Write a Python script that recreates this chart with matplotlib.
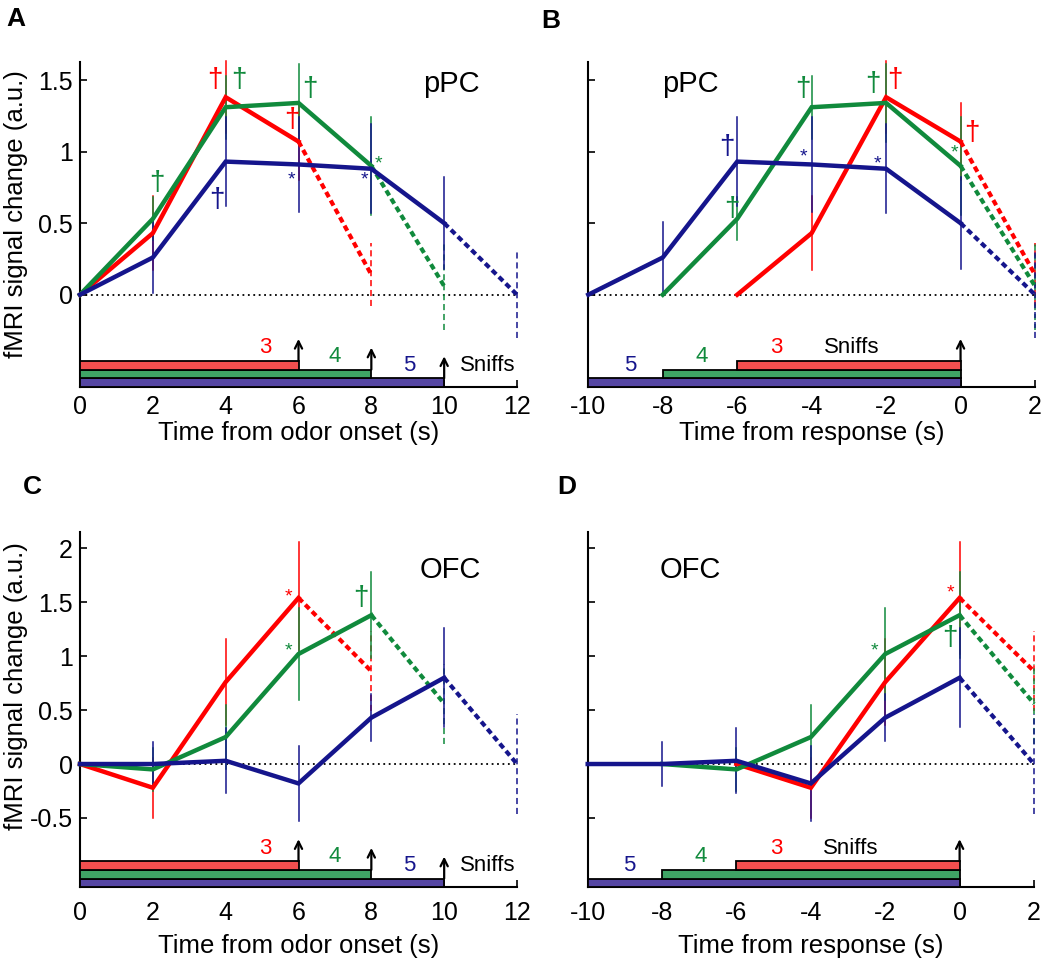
import numpy as np
import matplotlib
matplotlib.use('Agg')
import matplotlib.pyplot as plt
from matplotlib.transforms import blended_transform_factory
from matplotlib.patches import Rectangle

plt.rcParams['font.family'] = ['Liberation Sans', 'DejaVu Sans']
plt.rcParams['axes.unicode_minus'] = False

# colours for 3, 4 and 5 sniffs
line_cols = ['#ff0000', '#108a3c', '#15158c']
bar_cols = ['#f24f4f', '#3fa465', '#5546a3']
sniff_counts = ['3', '4', '5']

# time points (last point of each series is after the response -> dashed)
onset_t = [[0, 2, 4, 6, 8], [0, 2, 4, 6, 8, 10], [0, 2, 4, 6, 8, 10, 12]]
resp_t = [[-6, -4, -2, 0, 2], [-8, -6, -4, -2, 0, 2], [-10, -8, -6, -4, -2, 0, 2]]

# pPC
ppc_mean = [[0, 0.43, 1.38, 1.07, 0.14],
            [0, 0.53, 1.31, 1.34, 0.90, 0.06],
            [0, 0.26, 0.93, 0.91, 0.88, 0.50, 0.0]]
ppc_err = [[0, 0.26, 0.25, 0.27, 0.22],
           [0, 0.15, 0.22, 0.27, 0.34, 0.31],
           [0, 0.25, 0.31, 0.33, 0.31, 0.32, 0.30]]

# OFC
ofc_mean = [[0, -0.22, 0.76, 1.54, 0.86],
            [0, -0.05, 0.25, 1.02, 1.38, 0.56],
            [0, 0.0, 0.03, -0.18, 0.43, 0.80, 0.0]]
ofc_err = [[0, 0.28, 0.40, 0.52, 0.37],
           [0, 0.20, 0.30, 0.43, 0.40, 0.37],
           [0, 0.20, 0.30, 0.35, 0.22, 0.46, 0.46]]

# significance marks: x, y, symbol, series index
marks_a = [(3.7, 1.5, '†', 0), (4.35, 1.5, '†', 1), (6.3, 1.44, '†', 1),
           (5.82, 1.22, '†', 0), (2.1, 0.78, '†', 1), (3.75, 0.66, '†', 2),
           (5.8, 0.80, '*', 2), (7.8, 0.80, '*', 2), (8.2, 0.91, '*', 1)]
marks_b = [(-6.28, 1.035, '†', 2), (-4.23, 1.44, '†', 1), (-2.35, 1.47, '†', 1),
           (-1.76, 1.50, '†', 0), (0.31, 1.13, '†', 0), (-6.15, 0.6, '†', 1),
           (-4.23, 0.96, '*', 2), (-2.24, 0.91, '*', 2), (-0.17, 0.99, '*', 1)]
marks_c = [(5.72, 1.55, '*', 0), (7.72, 1.54, '†', 1), (5.72, 1.05, '*', 1)]
marks_d = [(-2.3, 1.05, '*', 1), (-0.24, 1.59, '*', 0), (-0.27, 1.17, '†', 1)]

onset_ticks = [0, 2, 4, 6, 8, 10, 12]
resp_ticks = [-10, -8, -6, -4, -2, 0, 2]
ppc_yticks = [0, 0.5, 1, 1.5]
ofc_yticks = [-0.5, 0, 0.5, 1, 1.5, 2]

fig = plt.figure(figsize=(10.5, 9.61), dpi=100)
W, H = 1050, 961
axA = fig.add_axes([80/W, 1-387/H, 437/W, 325/H])
axB = fig.add_axes([588.3/W, 1-387/H, 446.7/W, 325/H])
axC = fig.add_axes([80/W, 1-887.3/H, 437/W, 355.6/H])
axD = fig.add_axes([587.7/W, 1-887.3/H, 446.3/W, 355.6/H])


def draw_panel(ax, times, means, errs, marks, xlim, ylim, xticks, yticks,
               region, region_xy, onset, ah_px):
    ax.set_xlim(xlim)
    ax.set_ylim(ylim)
    ax.plot(xlim, [0, 0], color='k', lw=1.3, ls=(0, (1, 2)), zorder=1)
    # error bars
    for i in range(3):
        t, m, e = times[i], means[i], errs[i]
        for j in range(1, len(t)):
            ls = (0, (4, 2.5)) if j == len(t) - 1 else '-'
            ax.plot([t[j], t[j]], [m[j] - e[j], m[j] + e[j]], color=line_cols[i],
                    lw=1.1, ls=ls, zorder=2, clip_on=False)
    # mean lines
    for i in range(3):
        t, m = times[i], means[i]
        ax.plot(t[:-1], m[:-1], color=line_cols[i], lw=3.2, zorder=3,
                solid_joinstyle='miter', clip_on=False)
        ax.plot(t[-2:], m[-2:], color=line_cols[i], lw=3.0, ls=(0, (1.4, 0.9)),
                zorder=3, clip_on=False)
    for x, y, s, c in marks:
        fs = 20 if s == '†' else 14
        ax.text(x, y, s, color=line_cols[c], fontsize=fs, ha='center', va='center',
                zorder=5)
    ax.text(region_xy[0], region_xy[1], region, fontsize=21, ha='center', va='center')

    # sniff bars
    tr = blended_transform_factory(ax.transData, ax.transAxes)
    bh = 8.7 / ah_px
    tops = []
    for k in range(3):
        i = 2 - k  # blue at bottom
        if onset:
            x0, x1 = 0, 6 + 2 * i
        else:
            x0, x1 = -6 - 2 * i, 0
        ax.add_patch(Rectangle((x0, k * bh), x1 - x0, bh, transform=tr,
                               facecolor=bar_cols[i], edgecolor='k', lw=1.3,
                               zorder=4, clip_on=False))
        tops.append((i, x1, (k + 1) * bh))
    arrow_len = 22 / ah_px
    lab_off = 13 / ah_px
    aprops = dict(arrowstyle='->', lw=1.6, color='k', shrinkA=0, shrinkB=0,
                  mutation_scale=13)
    if onset:
        lab_x = [5.1, 7.0, 9.05]
        for i, x1, top in tops:
            ax.annotate('', xy=(x1, top + arrow_len), xycoords=tr,
                        xytext=(x1, top), textcoords=tr, arrowprops=aprops, zorder=5)
            ax.text(lab_x[i], top + lab_off, sniff_counts[i], transform=tr,
                    color=line_cols[i], fontsize=16, ha='center', va='center')
        ax.text(11.2, bh + lab_off, 'Sniffs', transform=tr,
                fontsize=16, ha='center', va='center')
    else:
        lab_x = [-4.94, -6.95, -8.88]
        for i, x1, top in tops:
            ax.text(lab_x[i], top + lab_off, sniff_counts[i], transform=tr,
                    color=line_cols[i], fontsize=16, ha='center', va='center')
        ax.annotate('', xy=(0, 3 * bh + arrow_len), xycoords=tr,
                    xytext=(0, 3 * bh), textcoords=tr, arrowprops=aprops, zorder=5)
        ax.text(-2.92, 3 * bh + lab_off, 'Sniffs', transform=tr,
                fontsize=16, ha='center', va='center')

    ax.spines['top'].set_visible(False)
    ax.spines['right'].set_visible(False)
    for sp in ['left', 'bottom']:
        ax.spines[sp].set_linewidth(1.5)
    ax.set_xticks(xticks)
    ax.set_xticklabels([str(v) for v in xticks])
    ax.set_yticks(yticks)
    ax.set_yticklabels(['%g' % v for v in yticks])
    ax.tick_params(direction='in', length=5, width=1.2, labelsize=18)
    ax.tick_params(axis='y', pad=5)


draw_panel(axA, onset_t, ppc_mean, ppc_err, marks_a, (0, 12), (-0.645, 1.626),
           onset_ticks, ppc_yticks, 'pPC', (10.2, 1.47), True, 325)
draw_panel(axB, resp_t, ppc_mean, ppc_err, marks_b, (-10, 2), (-0.645, 1.626),
           resp_ticks, ppc_yticks, 'pPC', (-7.27, 1.47), False, 325)
draw_panel(axC, onset_t, ofc_mean, ofc_err, marks_c, (0, 12), (-1.143, 2.154),
           onset_ticks, ofc_yticks, 'OFC', (10.17, 1.8), True, 355.6)
draw_panel(axD, resp_t, ofc_mean, ofc_err, marks_d, (-10, 2), (-1.143, 2.154),
           resp_ticks, ofc_yticks, 'OFC', (-7.25, 1.8), False, 355.6)

for ax in (axB, axD):
    ax.set_yticklabels([])
for ax in (axA, axB):
    ax.tick_params(axis='x', pad=6)
for ax in (axC, axD):
    ax.tick_params(axis='x', pad=10)

axA.set_ylabel('fMRI signal change (a.u.)', fontsize=18.5)
axA.yaxis.set_label_coords(-0.12, 0.532)
axC.set_ylabel('fMRI signal change (a.u.)', fontsize=18.5)
axC.yaxis.set_label_coords(-0.12, 0.566)
for ax, lab in ((axA, 'Time from odor onset (s)'), (axB, 'Time from response (s)')):
    ax.set_xlabel(lab, fontsize=18.5, labelpad=1)
for ax, lab in ((axC, 'Time from odor onset (s)'), (axD, 'Time from response (s)')):
    ax.set_xlabel(lab, fontsize=18.5, labelpad=6)

for x, y, s in ((16, 18.5, 'A'), (551, 21, 'B'), (32, 487, 'C'), (567, 487, 'D')):
    fig.text(x / W, 1 - y / H, s, fontsize=19, fontweight='bold', ha='center', va='center')

fig.savefig('out.png', dpi=100)
